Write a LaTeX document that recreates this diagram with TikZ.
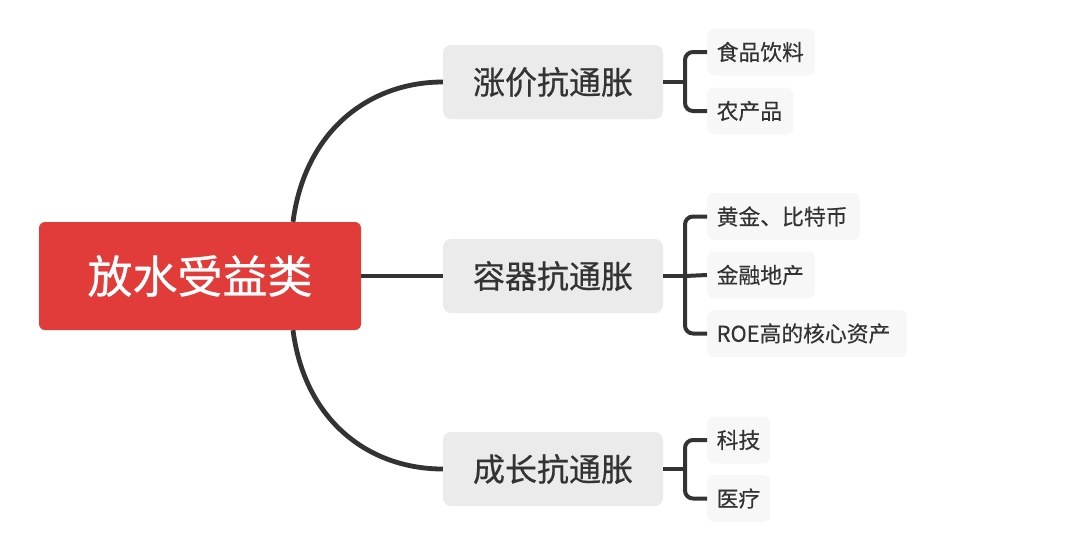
\documentclass[tikz,border=0pt]{standalone}
\usepackage{fontspec}
\setmainfont{Noto Sans CJK SC}
\newfontfamily\cjkmed[FakeBold=0.6]{Noto Sans CJK SC}
\newfontfamily\cjkleaf[FakeBold=0.35]{Noto Sans CJK SC}
\definecolor{rootred}{HTML}{E23C3A}
\definecolor{midgray}{HTML}{EBEBEB}
\definecolor{leafgray}{HTML}{F7F7F7}
\definecolor{ink}{HTML}{333333}
\tikzset{
  rootbox/.style={fill=rootred, rounded corners=6pt, text=white, inner sep=0pt,
    font=\cjkmed\fontsize{45}{50}\selectfont},
  midbox/.style={fill=midgray, rounded corners=8pt, text=ink, inner sep=0pt,
    minimum width=220pt, minimum height=74pt, font=\cjkmed\fontsize{32}{36}\selectfont},
  leafbox/.style={fill=leafgray, rounded corners=7pt, text=ink, inner ysep=0pt,
    inner xsep=9.5pt, anchor=west, minimum height=47pt, align=left,
    font=\cjkleaf\fontsize{21.8}{25}\selectfont},
  conn/.style={draw=ink, line width=4.8pt},
  brace/.style={draw=ink, line width=4pt, rounded corners=8pt},
}
\begin{document}
\begin{tikzpicture}[x=1pt,y=-1pt]
\useasboundingbox (0,0) rectangle (1080,550);
% root
\node[rootbox, minimum width=322pt, minimum height=108pt] (root) at (200,276) {放水受益类};
% middle nodes
\node[midbox] (m1) at (553,82) {涨价抗通胀};
\node[midbox] (m2) at (553,276) {容器抗通胀};
\node[midbox] (m3) at (553,469) {成长抗通胀};
% leaves
\node[leafbox, text width=89pt] (l1) at (707,52) {食品饮料};
\node[leafbox, text width=67pt] (l2) at (707,111) {农产品};
\node[leafbox, text width=134pt] (l3) at (707,216.5) {黄金、比特币};
\node[leafbox, text width=89pt] (l4) at (707,275) {金融地产};
\node[leafbox, text width=181pt] (l5) at (707,333.5) {ROE高的核心资产};
\node[leafbox, text width=44pt] (l6) at (707,440) {科技};
\node[leafbox, text width=44pt] (l7) at (707,498.5) {医疗};
% root connectors
\coordinate (rt) at ([xshift=93pt]root.north);
\coordinate (rb) at ([xshift=93pt]root.south);
\draw[conn] (rt) .. controls (305,130) and (370,82) .. (m1.west);
\draw[conn] (root.east) -- (m2.west);
\draw[conn] (rb) .. controls (305,422) and (370,469) .. (m3.west);
% brackets
\coordinate (b1) at (685,82);
\coordinate (b2) at (685,276);
\coordinate (b3) at (685,469);
\draw[brace] (m1.east) -- (b1);
\draw[brace] (b1) |- (l1.west);
\draw[brace] (b1) |- (l2.west);
\draw[brace] (m2.east) -- (b2);
\draw[brace] (b2) |- (l3.west);
\draw[brace] (b2) -- (l4.west);
\draw[brace] (b2) |- (l5.west);
\draw[brace] (m3.east) -- (b3);
\draw[brace] (b3) |- (l6.west);
\draw[brace] (b3) |- (l7.west);
\end{tikzpicture}
\end{document}
